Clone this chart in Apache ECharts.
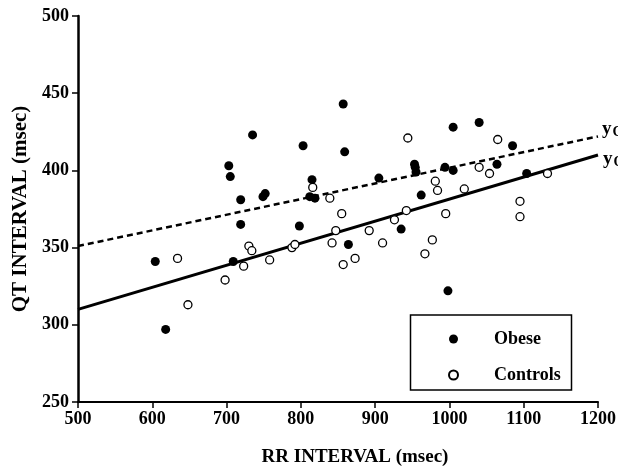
<!DOCTYPE html>
<html>
<head>
<meta charset="utf-8">
<title>QT vs RR interval</title>
<script src="https://cdn.jsdelivr.net/npm/echarts@6/dist/echarts.min.js"></script>
<style>
  html, body { margin: 0; padding: 0; background: #fff; }
  #chart { width: 618px; height: 466px; }
</style>
</head>
<body>
<div id="chart"></div>
<script>
// RR interval (msec) / QT interval (msec)
const obeseRR = [604, 618, 703, 705, 709, 719, 719, 735, 749, 752, 798, 803, 812, 815, 819, 857,
  859, 864, 905, 935, 953, 954, 955, 962, 994, 998, 1005, 1005, 1040, 1064, 1085, 1104]
const obeseQT = [341, 297, 403, 396, 341, 381, 365, 423, 383, 385, 364, 416, 383, 394, 382, 443,
  412, 352, 395, 362, 404, 402, 399, 384, 402, 322, 428, 400, 431, 404, 416, 398]
const controlsRR = [634, 648, 698, 723, 730, 734, 758, 788, 792, 816, 839, 842, 847, 855, 857, 873,
  892, 910, 926, 942, 944, 967, 977, 981, 984, 995, 1020, 1040, 1054, 1065, 1095, 1095, 1132]
const controlsQT = [343, 313, 329, 338, 351, 348, 342, 350, 352, 389, 382, 353, 361, 372, 339, 343,
  361, 353, 368, 374, 421, 346, 355, 393, 387, 372, 388, 402, 398, 420, 380, 370, 398]
// regression lines
const fitRR = [500, 1200]
const controlsFit = [351, 422]
const obeseFit = [310, 410]
const xTicks = [500, 600, 700, 800, 900, 1000, 1100, 1200]
const yTicks = [250, 300, 350, 400, 450, 500]

const serif = '"Liberation Serif", "Times New Roman", serif'

function pairs (xs, ys) {
  return xs.map((x, i) => [x, ys[i]])
}

let chart = echarts.init(document.getElementById('chart'))
chart.setOption({
  animation: false,
  grid: { left: 78, right: 20, top: 16, bottom: 64, containLabel: false, outerBoundsMode: 'none' },
  xAxis: {
    type: 'value',
    min: xTicks[0],
    max: xTicks[xTicks.length - 1],
    interval: 100,
    name: 'RR INTERVAL (msec)',
    nameLocation: 'middle',
    nameGap: 46,
    nameTextStyle: { fontFamily: serif, fontWeight: 'bold', fontSize: 19, color: '#000', padding: [0, 0, 0, 34] },
    axisLine: { lineStyle: { color: '#000', width: 2 } },
    axisTick: { inside: false, length: 6, lineStyle: { color: '#000', width: 1.5 } },
    axisLabel: { margin: 8, fontFamily: serif, fontWeight: 'bold', fontSize: 18, color: '#000', formatter: v => String(v) },
    splitLine: { show: false }
  },
  yAxis: {
    type: 'value',
    min: yTicks[0],
    max: yTicks[yTicks.length - 1],
    interval: 50,
    name: 'QT INTERVAL (msec)',
    nameLocation: 'middle',
    nameGap: 47,
    nameTextStyle: { fontFamily: serif, fontWeight: 'bold', fontSize: 21, color: '#000' },
    axisLine: { lineStyle: { color: '#000', width: 2.5 } },
    axisTick: { inside: false, length: 6, lineStyle: { color: '#000', width: 1.5 } },
    axisLabel: { margin: 9, fontFamily: serif, fontWeight: 'bold', fontSize: 18, color: '#000', formatter: v => String(v) },
    splitLine: { show: false }
  },
  legend: {
    data: ['Obese', 'Controls'],
    orient: 'vertical',
    left: 443,
    top: 325,
    itemWidth: 9,
    itemHeight: 9,
    itemGap: 18,
    textStyle: { fontFamily: serif, fontWeight: 'bold', fontSize: 18, color: '#000', padding: [0, 0, 0, 31] }
  },
  graphic: [
    {
      type: 'rect',
      shape: { x: 410.5, y: 315, width: 161, height: 75 },
      style: { fill: 'none', stroke: '#000', lineWidth: 1.5 }
    },
    {
      type: 'text',
      x: 602,
      y: 129,
      style: {
        text: '{a|y}{b|C}',
        verticalAlign: 'middle',
        rich: {
          a: { fontFamily: serif, fontWeight: 'bold', fontSize: 19, fill: '#000' },
          b: { fontFamily: serif, fontWeight: 'bold', fontSize: 14, fill: '#000', padding: [6, 0, 0, 1] }
        }
      }
    },
    {
      type: 'text',
      x: 603,
      y: 159,
      style: {
        text: '{a|y}{b|O}',
        verticalAlign: 'middle',
        rich: {
          a: { fontFamily: serif, fontWeight: 'bold', fontSize: 19, fill: '#000' },
          b: { fontFamily: serif, fontWeight: 'bold', fontSize: 14, fill: '#000', padding: [6, 0, 0, 1] }
        }
      }
    }
  ],
  series: [
    {
      name: 'Controls fit',
      type: 'line',
      data: pairs(fitRR, controlsFit),
      symbol: 'none',
      silent: true,
      lineStyle: { color: '#000', width: 2.5, type: [6, 4] },
      z: 1
    },
    {
      name: 'Obese fit',
      type: 'line',
      data: pairs(fitRR, obeseFit),
      symbol: 'none',
      silent: true,
      lineStyle: { color: '#000', width: 3 },
      z: 1
    },
    {
      name: 'Obese',
      type: 'scatter',
      data: pairs(obeseRR, obeseQT),
      symbol: 'circle',
      symbolSize: 9,
      itemStyle: { color: '#000', opacity: 1 },
      z: 3
    },
    {
      name: 'Controls',
      type: 'scatter',
      data: pairs(controlsRR, controlsQT),
      symbol: 'circle',
      symbolSize: 8,
      itemStyle: { color: '#fff', borderColor: '#000', borderWidth: 1.3, opacity: 1 },
      z: 3
    }
  ]
})
</script>
</body>
</html>
